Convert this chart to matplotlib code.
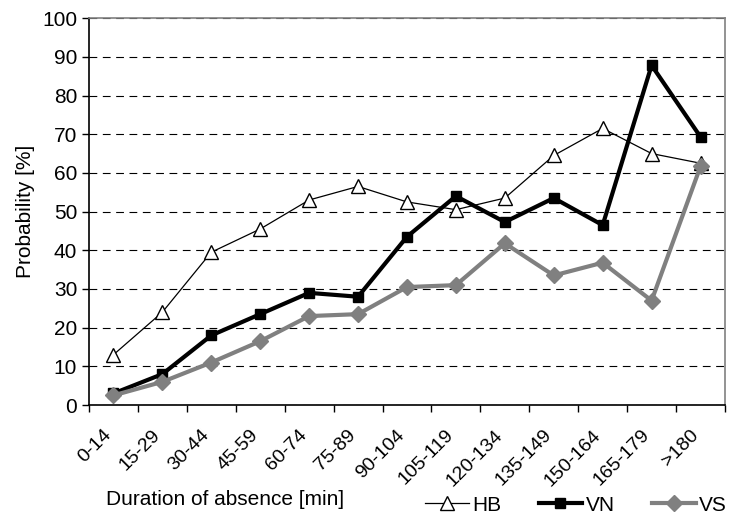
import matplotlib.pyplot as plt
import matplotlib.transforms as mtransforms
import numpy as np

plt.rcParams["font.family"] = ["Liberation Sans", "DejaVu Sans"]

# Data
categories = ["0-14", "15-29", "30-44", "45-59", "60-74", "75-89", "90-104",
              "105-119", "120-134", "135-149", "150-164", "165-179", ">180"]
hb = [13, 24, 39.5, 45.5, 53, 56.5, 52.5, 50.5, 53.5, 64.5, 71.5, 65, 62.5]
vn = [3, 8, 18, 23.5, 29, 28, 43.5, 54, 47.3, 53.5, 46.5, 87.8, 69.3]
vs = [2.5, 6, 11, 16.5, 23, 23.5, 30.5, 31, 41.8, 33.5, 36.8, 27, 61.7]

fs = 15

fig = plt.figure(figsize=(7.29, 5.18), dpi=100)
ax = fig.add_axes([0.122, 0.218, 0.8725, 0.747])

x = np.arange(len(categories)) + 0.5

ax.plot(x, hb, color="black", lw=0.9, marker="^", ms=10, mfc="white",
        mec="black", mew=1.0, label="HB", zorder=3)
ax.plot(x, vn, color="black", lw=3.0, marker="s", ms=6.5, mfc="black",
        mec="black", label="VN", zorder=4)
ax.plot(x, vs, color="#808080", lw=3.0, marker="D", ms=8.5, mfc="#808080",
        mec="#808080", label="VS", zorder=5)

ax.set_xlim(0, len(categories))
ax.set_ylim(0, 100)
ax.set_yticks(np.arange(0, 101, 10))
ax.yaxis.grid(True, color="black", lw=0.8, dashes=(7, 5))
ax.set_axisbelow(True)

# boundaries get the tick marks, centers get the labels
ax.set_xticks(np.arange(len(categories) + 1))
ax.set_xticklabels([])
ax.set_xticks(x, minor=True)
ax.set_xticklabels(categories, minor=True, rotation=45, ha="right",
                   rotation_mode="anchor", fontsize=14)
ax.tick_params(axis="x", which="minor", length=0, pad=14)
ax.tick_params(axis="x", which="major", length=5, width=1, direction="out")
ax.tick_params(axis="y", length=5, width=1, direction="out", labelsize=fs)
shift = mtransforms.ScaledTranslation(-0.11, -0.02, fig.dpi_scale_trans)
for lbl in ax.get_xticklabels(minor=True):
    lbl.set_transform(lbl.get_transform() + shift)

ax.spines["left"].set_color("black")
ax.spines["bottom"].set_color("black")
ax.spines["top"].set_color("#808080")
ax.spines["right"].set_color("#808080")
for s in ax.spines.values():
    s.set_linewidth(1.2)

ax.set_ylabel("Probability [%]", fontsize=fs, labelpad=5)
fig.text(0.309, 0.035, "Duration of absence [min]", fontsize=fs, ha="center", va="center")

ax.legend(loc="center right", bbox_to_anchor=(0.997, 0.025), bbox_transform=fig.transFigure,
          ncol=3, frameon=False, fontsize=fs, handlelength=2.1, handletextpad=0.15,
          columnspacing=1.8, borderpad=0, borderaxespad=0)

fig.savefig("out.png", dpi=100)
